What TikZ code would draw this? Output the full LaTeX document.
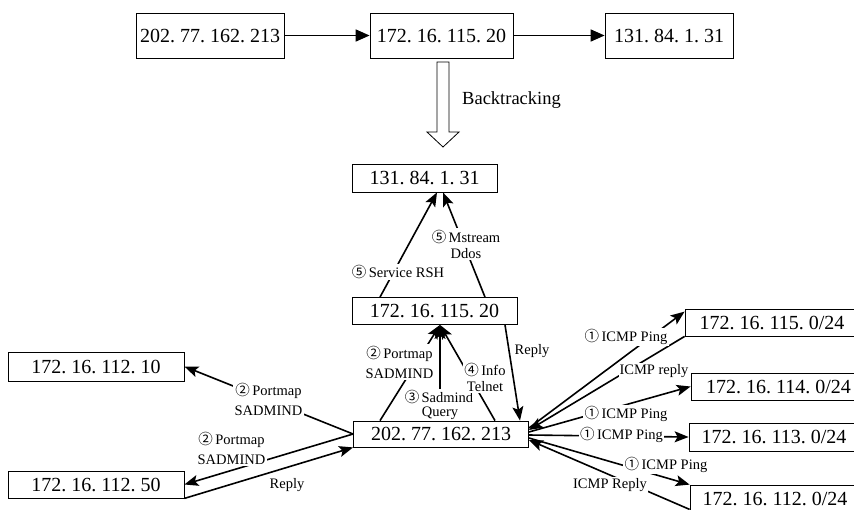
\documentclass[tikz,border=0pt]{standalone}
\usepackage{fontspec}
\setmainfont{Liberation Serif}
\newfontfamily\cjk{Noto Sans CJK SC}
\usetikzlibrary{arrows.meta}
% wider gap after each dot of an address
\newcommand\ipdot{.\kern0.25em\relax}
% circled step number
\newcommand\circnum[1]{{\cjk #1}\,}

\begin{document}
\begin{tikzpicture}[x=1pt,y=-1pt,
  ipbox/.style={draw,line width=0.8pt,fill=white,inner sep=0pt,font=\fontsize{20}{22}\selectfont},
  link/.style={line width=1.6pt,-{Stealth[length=14pt,width=11pt,inset=3pt]}},
  flow/.style={line width=1.7pt,-{Triangle[length=14pt,width=12pt]}},
  lbl/.style={font=\fontsize{14.5}{16}\selectfont,inner sep=1.5pt,align=center},
  lblw/.style={lbl,fill=white},
]
\clip (0,0) rectangle (854,509);

% attack path
\node[ipbox,minimum width=148pt,minimum height=45pt] (t1) at (210,35.5) {202\ipdot77\ipdot162\ipdot213};
\node[ipbox,minimum width=143pt,minimum height=45pt] (t2) at (441.5,35.5) {172\ipdot16\ipdot115\ipdot20};
\node[ipbox,minimum width=128pt,minimum height=45pt] (t3) at (669,35.5) {131\ipdot84\ipdot1\ipdot31};
\draw[flow] (t1) -- (t2);
\draw[flow] (t2) -- (t3);

% hollow arrow
\draw[line width=0.8pt,fill=white] (437,62) -- (437,132) -- (427,132) -- (443,147)
  -- (459,132) -- (449,132) -- (449,62) -- cycle;
\node[anchor=west,font=\fontsize{18.5}{20}\selectfont,inner sep=0pt] (bt) at (462,100) {Backtracking};

% reconstructed scenario
\node[ipbox,minimum width=145pt,minimum height=28pt] (m1) at (424.5,178) {131\ipdot84\ipdot1\ipdot31};
\node[ipbox,minimum width=165pt,minimum height=27pt] (m2) at (434.5,311) {172\ipdot16\ipdot115\ipdot20};
\node[ipbox,minimum width=175pt,minimum height=26pt] (b) at (441,434) {202\ipdot77\ipdot162\ipdot213};
\node[ipbox,minimum width=176pt,minimum height=29pt] (l1) at (96,366.5) {172\ipdot16\ipdot112\ipdot10};
\node[ipbox,minimum width=176pt,minimum height=27pt] (l2) at (96,484.5) {172\ipdot16\ipdot112\ipdot50};
\node[ipbox,minimum width=174pt,minimum height=27pt] (r1) at (772,322.5) {172\ipdot16\ipdot115\ipdot0/24};
\node[ipbox,minimum width=175pt,minimum height=27pt] (r2) at (778.5,386.5) {172\ipdot16\ipdot114\ipdot0/24};
\node[ipbox,minimum width=170pt,minimum height=28pt] (r3) at (774,437) {172\ipdot16\ipdot113\ipdot0/24};
\node[ipbox,minimum width=170pt,minimum height=28pt] (r4) at (775,499) {172\ipdot16\ipdot112\ipdot0/24};

% 172.16.115.20 -> 131.84.1.31
\draw[link] ([xshift=-54.5pt]m2.north) -- ([xshift=12.5pt]m1.south);
\draw[link] ([xshift=50.5pt]m2.north) -- ([xshift=18.5pt]m1.south);

% 202.77.162.213 <-> 172.16.115.20
\draw[link] ([xshift=-61pt]b.north) -- ([xshift=5.5pt]m2.south);
\draw[link] ([xshift=-1pt]b.north) -- ([xshift=5.5pt]m2.south);
\draw[link] ([xshift=54pt]b.north) -- ([xshift=5.5pt]m2.south);
\draw[link] ([xshift=70.5pt]m2.south) -- ([xshift=79pt]b.north);

% left hosts
\draw[link] (b.west) -- (l1.east);
\draw[link] (b.west) -- (l2.east);
\draw[link] (l2.south east) -- (b.south west);

% right subnets
\draw[link] ([yshift=6pt]b.east) -- ([yshift=-3pt]r1.north west);
\draw[link] (r1.south west) -- ([yshift=4pt]b.east);
\draw[link] ([yshift=2pt]b.east) -- (r2.west);
\draw[link] ([yshift=-1pt]b.east) -- (r3.west);
\draw[link] ([yshift=-4pt]b.east) -- (r4.north west);
\draw[link] ([yshift=4pt]r4.south west) -- ([yshift=-6pt]b.east);

% labels
\node[lblw] (lsrsh) at (398,272) {\circnum{⑤}Service RSH};
\node[lblw] (lmst) at (466,244) {\circnum{⑤}Mstream\\Ddos};
\node[lblw] (lpm) at (399.5,362) {\circnum{②}Portmap\\[4pt]SADMIND};
\node[lblw] (lsad) at (439,397) {\circnum{③}Sadmind};
\node[lblw] (lqry) at (440,413) {Query};
\node[lblw] (linfo) at (485,377) {\circnum{④}Info\\Telnet};
\node[lbl,anchor=west] (lrep1) at (513,351) {Reply};
\node[lblw] (lpm1) at (268.5,399.5) {\circnum{②}Portmap\\[4pt]SADMIND};
\node[lblw] (lpm2) at (231.5,448) {\circnum{②}Portmap\\[4pt]SADMIND};
\node[lbl] (lrep2) at (287,485) {Reply};
\node[lblw] (lp1) at (626,337) {\circnum{①}ICMP Ping};
\node[lblw,inner sep=1pt] (lr1) at (654,371) {ICMP reply};
\node[lblw] (lp2) at (626,414) {\circnum{①}ICMP Ping};
\node[lblw] (lp3) at (621.5,435) {\circnum{①}ICMP Ping};
\node[lblw] (lp4) at (666,465) {\circnum{①}ICMP Ping};
\node[lblw] (lr4) at (610,485) {ICMP Reply};
\end{tikzpicture}
\end{document}
